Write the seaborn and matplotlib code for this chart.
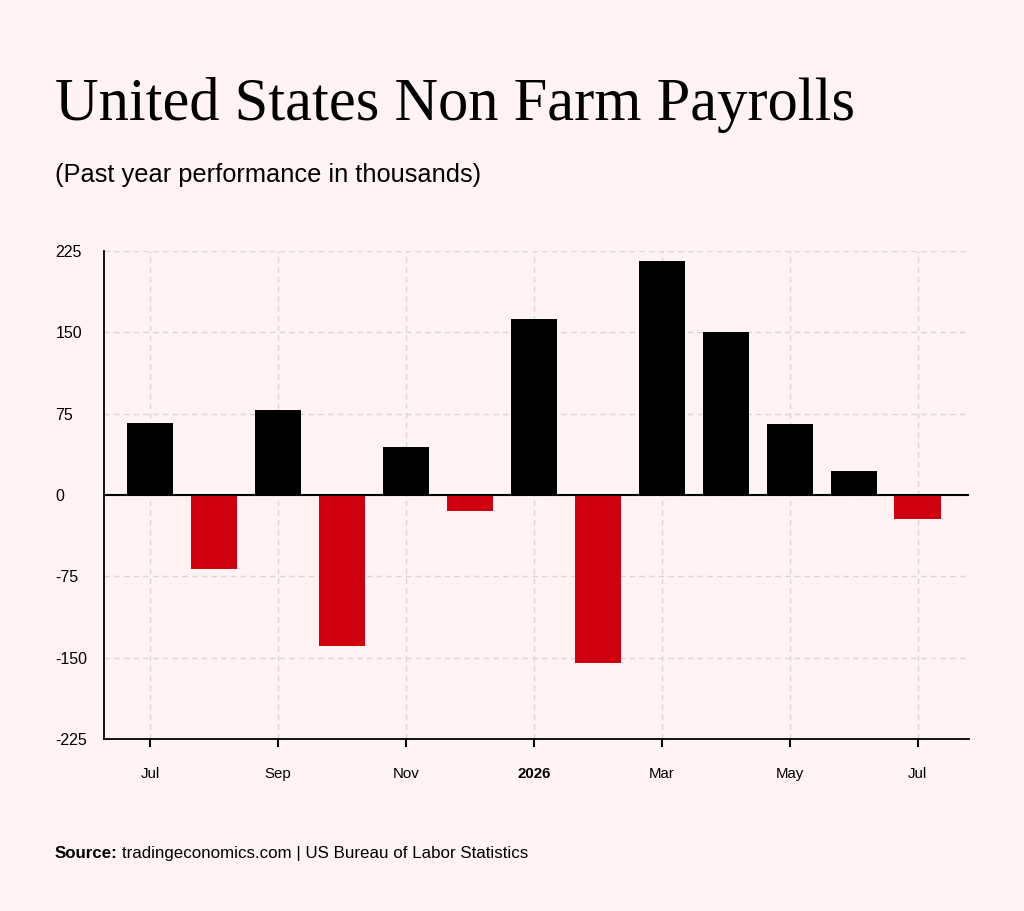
import pandas as pd
import numpy as np
import matplotlib.pyplot as plt
import seaborn as sns

# Monthly change in non farm payrolls (thousands), Jul 2025 - Jul 2026
months = ['2025-07', '2025-08', '2025-09', '2025-10', '2025-11', '2025-12', '2026-01',
          '2026-02', '2026-03', '2026-04', '2026-05', '2026-06', '2026-07']
payrolls = [66, -68, 78, -139, 44, -15, 162, -155, 216, 150, 65, 22, -22]
tick_labels = ['Jul', 'Sep', 'Nov', '2026', 'Mar', 'May', 'Jul']
y_ticks = [-225, -150, -75, 0, 75, 150, 225]

bg = '#fff3f3'
sns.set_style('white', {'axes.facecolor': bg, 'figure.facecolor': bg})
plt.rcParams['font.family'] = ['Liberation Sans', 'DejaVu Sans']
plt.rcParams['text.color'] = 'black'
plt.rcParams['xtick.color'] = 'black'
plt.rcParams['ytick.color'] = 'black'

df = pd.DataFrame({'month': months, 'value': payrolls})
df['sign'] = np.where(df['value'] >= 0, 'up', 'down')

fig = plt.figure(figsize=(10.24, 9.11), dpi=100)
ax = fig.add_axes([0.1016, 0.1888, 0.8447, 0.5357])

sns.barplot(data=df, x='month', y='value', hue='sign', palette={'up': '#000000', 'down': '#d0000f'},
            width=0.73, dodge=False, legend=False, saturation=1, linewidth=0, ax=ax, zorder=3)

ax.set_ylim(-225, 225)
ax.set_xlim(-0.72, 12.8)
ax.set_yticks(y_ticks)
ax.set_yticklabels([str(v) for v in y_ticks], fontsize=11.5, ha='left')
ax.tick_params(axis='y', left=False, length=0, pad=35)
ax.set_xticks(range(0, 13, 2))
ax.set_xticklabels(tick_labels, fontsize=10.8)
ax.tick_params(axis='x', bottom=True, length=6, width=1.5, color='black', pad=14)
for lbl in ax.get_xticklabels():
    if lbl.get_text() == '2026':
        lbl.set_fontweight('bold')

ax.grid(True, linestyle=(0, (4, 3)), color='#d8d8d8', linewidth=1, zorder=0)
ax.set_axisbelow(True)
ax.axhline(0, color='black', linewidth=1.5, zorder=4)
for side in ['top', 'right']:
    ax.spines[side].set_visible(False)
for side in ['left', 'bottom']:
    ax.spines[side].set_color('black')
    ax.spines[side].set_linewidth(1.3)
ax.set_xlabel('')
ax.set_ylabel('')

fig.text(0.0537, 0.868, 'United States Non Farm Payrolls', family='Liberation Serif',
         fontsize=43.6, va='baseline', ha='left')
fig.text(0.0537, 0.8, '(Past year performance in thousands)', fontsize=18.3, va='baseline', ha='left')
src = fig.text(0.0537, 0.058, 'Source:', fontsize=12.2, fontweight='bold', va='baseline', ha='left')
fig.canvas.draw()
bb = src.get_window_extent().transformed(fig.transFigure.inverted())
fig.text(bb.x1 + 0.004, 0.058, 'tradingeconomics.com | US Bureau of Labor Statistics',
         fontsize=12.2, va='baseline', ha='left')

fig.savefig('out.png', dpi=100, facecolor=bg)
